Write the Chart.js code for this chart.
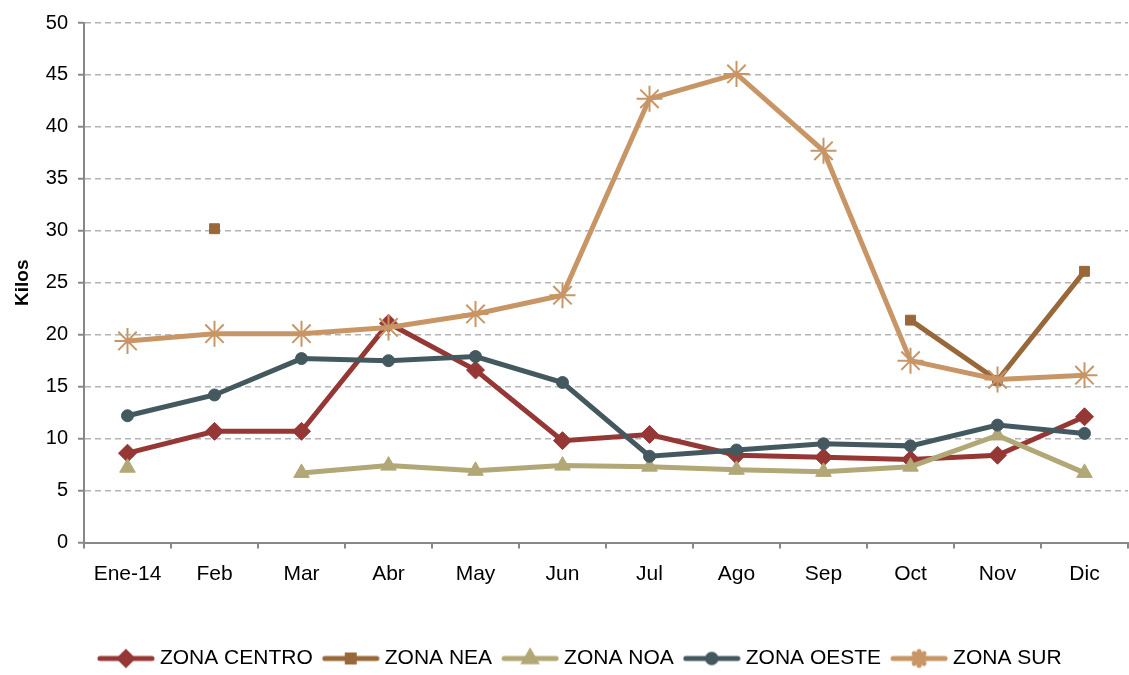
<!DOCTYPE html>
<html>
<head>
<meta charset="utf-8">
<script src="https://cdn.jsdelivr.net/npm/chart.js@4"></script>
<style>
  html, body { margin: 0; padding: 0; background: #fff; }
  #wrap { width: 1129px; height: 675px; }
</style>
</head>
<body>
<div id="wrap"><canvas id="myChart" width="1129" height="675"></canvas></div>
<script>
const months = ["Ene-14", "Feb", "Mar", "Abr", "May", "Jun", "Jul", "Ago", "Sep", "Oct", "Nov", "Dic"];
const zonaCentro = [8.6, 10.7, 10.7, 21.1, 16.6, 9.8, 10.4, 8.4, 8.2, 8.0, 8.4, 12.1];
const zonaNea = [null, 30.2, null, null, null, null, null, null, null, 21.4, 15.6, 26.1];
const zonaNoa = [7.2, null, 6.7, 7.4, 6.9, 7.4, 7.3, 7.0, 6.8, 7.3, 10.3, 6.7];
const zonaOeste = [12.2, 14.2, 17.7, 17.5, 17.9, 15.4, 8.3, 8.9, 9.5, 9.3, 11.3, 10.5];
const zonaSur = [19.4, 20.1, 20.1, 20.7, 22.0, 23.8, 42.7, 45.1, 37.7, 17.5, 15.7, 16.1];
const yTicks = [0, 5, 10, 15, 20, 25, 30, 35, 40, 45, 50];

const FONT = "'Liberation Sans', Arial, sans-serif";

const series = [
  {label: "ZONA CENTRO", data: zonaCentro, color: "#953735", style: "rectRot", r: 9},
  {label: "ZONA NEA", data: zonaNea, color: "#99683A", style: "rect", r: 7},
  {label: "ZONA NOA", data: zonaNoa, color: "#B2A776", style: "triangle", r: 9},
  {label: "ZONA OESTE", data: zonaOeste, color: "#44595F", style: "circle", r: 6},
  {label: "ZONA SUR", data: zonaSur, color: "#C89666", style: "star", r: 13}
];

// legend swatch: line with the marker on it
function swatch(s) {
  const c = document.createElement("canvas");
  c.width = 58; c.height = 24;
  const g = c.getContext("2d");
  g.strokeStyle = s.color;
  g.lineWidth = 5;
  g.lineCap = "round";
  g.beginPath(); g.moveTo(3, 12); g.lineTo(55, 12); g.stroke();
  Chart.helpers.drawPoint(g, {
    pointStyle: s.style,
    radius: s.style === "star" ? 7 : s.r * 0.7,
    rotation: 0,
    borderWidth: s.style === "star" ? 1.5 : 1
  }, 29, 12);
  g.fillStyle = s.color;
  g.fill();
  return c;
}

const datasets = series.map((s, i) => ({
  label: s.label,
  data: s.data,
  borderColor: s.color,
  backgroundColor: s.color,
  borderWidth: 5,
  pointStyle: s.style,
  pointRadius: s.r,
  pointBorderWidth: s.style === "star" ? 2 : 1,
  pointHoverRadius: s.r,
  tension: 0,
  spanGaps: false,
  order: series.length - i
}));

// nudge the legend a bit right and down, like the original
const legendShift = {
  id: "legendShift",
  afterLayout(chart) {
    const lg = chart.legend;
    lg.left += 18; lg.right += 18;
    lg.top += 4; lg.bottom += 4;
  }
};

const chart = new Chart(document.getElementById("myChart"), {
  type: "line",
  data: {labels: months, datasets},
  plugins: [legendShift],
  options: {
    responsive: false,
    animation: false,
    layout: {autoPadding: false, padding: {top: 23, right: 1, left: 0, bottom: 0}},
    plugins: {
      tooltip: {enabled: false},
      legend: {
        position: "bottom",
        labels: {
          font: {family: FONT, size: 21, lineHeight: 1},
          color: "#000",
          usePointStyle: true,
          pointStyleWidth: 47,
          padding: 14.5,
          generateLabels: () => series.map((s, i) => ({
            text: s.label,
            pointStyle: swatch(s),
            fillStyle: s.color,
            strokeStyle: s.color,
            lineWidth: 0,
            datasetIndex: i,
            fontColor: "#000"
          }))
        }
      }
    },
    scales: {
      x: {
        offset: true,
        grid: {display: true, drawOnChartArea: false, offset: true, color: "#888", tickLength: 6, lineWidth: 2},
        border: {color: "#888", width: 2},
        ticks: {font: {family: FONT, size: 21}, color: "#000", padding: 13, maxRotation: 0},
        afterFit: (scale) => {
          scale.height = 87;
          scale.paddingLeft = 0;
          scale.paddingRight = 0;
        }
      },
      y: {
        min: 0,
        max: 50,
        afterBuildTicks: (scale) => { scale.ticks = yTicks.map(v => ({value: v})); },
        grid: {color: "#B4B4B4", lineWidth: 1.5, tickLength: 6, tickColor: "#888", tickBorderDash: [], tickWidth: 2},
        border: {color: "#888", width: 2, dash: [6, 4], display: true},
        ticks: {font: {family: FONT, size: 20}, color: "#000", padding: 10},
        title: {display: true, text: "Kilos", font: {family: FONT, size: 19, weight: "bold"}, color: "#000", padding: {top: 11, bottom: 0}},
        afterFit: (scale) => { scale.width = 84; }
      }
    }
  }
});
</script>
</body>
</html>
